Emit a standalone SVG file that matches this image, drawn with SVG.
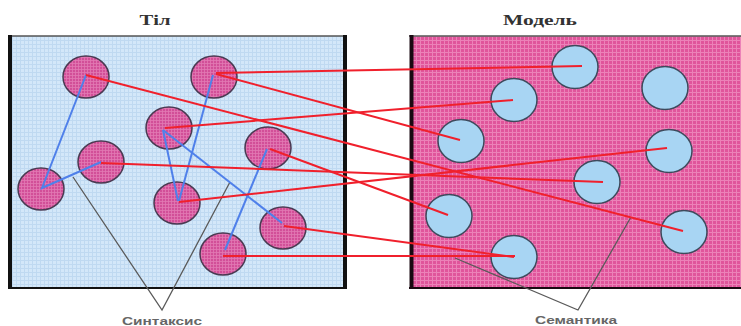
<svg xmlns="http://www.w3.org/2000/svg" width="741" height="326" viewBox="0 0 741 326">
<defs>
<pattern id="gridBlue" width="4" height="4" patternUnits="userSpaceOnUse">
<rect width="4" height="4" fill="#d3e7f9"/>
<path d="M0 0.5H4M0.5 0V4" stroke="#bfd9f1" stroke-width="1"/>
</pattern>
<pattern id="gridPink" width="4" height="4" patternUnits="userSpaceOnUse">
<rect width="4" height="4" fill="#e0559b"/>
<path d="M0 0.5H4M0.5 0V4" stroke="#ec82b8" stroke-width="1"/>
</pattern>
<pattern id="gridMag" width="3" height="3" patternUnits="userSpaceOnUse">
<rect width="3" height="3" fill="#d24f98"/>
<path d="M0 0.5H3M0.5 0V3" stroke="#e27ab4" stroke-width="0.8"/>
</pattern>
</defs>
<style>
.title{font-family:"Liberation Serif",serif;font-weight:bold;font-size:14px;fill:#333;text-anchor:middle}
.lbl{font-family:"Liberation Sans",sans-serif;font-weight:bold;font-size:10px;fill:#666;text-anchor:middle}
.ln{fill:url(#gridMag);stroke:#4a3a52;stroke-width:1.5}
.mn{fill:#a8d5f3;stroke:#3e4a5c;stroke-width:1.5}
.blue{stroke:#4f80ea;stroke-width:2;fill:none}
.red{stroke:#f0202c;stroke-width:2;fill:none}
.v{stroke:#5a5a5a;stroke-width:1.3;fill:none}
</style>
<rect width="741" height="326" fill="#ffffff"/>

<g id="box-til">
<rect x="10" y="36" width="335" height="251" fill="url(#gridBlue)"/>
<path d="M8 36H347" stroke="#555" stroke-width="1.5"/>
<path d="M10 35V289" stroke="#111" stroke-width="4"/>
<path d="M345 35V289" stroke="#111" stroke-width="4"/>
<path d="M8 288H347" stroke="#111" stroke-width="2"/>
<text class="title" x="155" y="25" textLength="31" lengthAdjust="spacingAndGlyphs">Тіл</text>
</g>

<g id="box-model">
<rect x="411" y="36" width="332" height="251" fill="url(#gridPink)"/>
<path d="M409 36H741" stroke="#555" stroke-width="1.5"/>
<path d="M411.5 35V289" stroke="#1a0a12" stroke-width="4"/>
<path d="M409 288H741" stroke="#1a0a12" stroke-width="2"/>
<text class="title" x="540" y="25" textLength="74" lengthAdjust="spacingAndGlyphs">Модель</text>
</g>

<g id="connectors-syntax-semantics">
<path class="v" d="M73 177L162 310L230 182"/>
<path class="v" d="M455 258L578 310L631 217"/>
</g>

<g id="til-nodes">
<g id="t1"><ellipse class="ln" cx="86" cy="77" rx="23" ry="21"/></g>
<g id="t2"><ellipse class="ln" cx="214" cy="77" rx="23" ry="21"/></g>
<g id="t3"><ellipse class="ln" cx="169" cy="128" rx="23" ry="21"/></g>
<g id="t4"><ellipse class="ln" cx="268" cy="148" rx="23" ry="21"/></g>
<g id="t5"><ellipse class="ln" cx="101" cy="162" rx="23" ry="21"/></g>
<g id="t6"><ellipse class="ln" cx="41" cy="189" rx="23" ry="21"/></g>
<g id="t7"><ellipse class="ln" cx="177" cy="203" rx="23" ry="21"/></g>
<g id="t8"><ellipse class="ln" cx="283" cy="228" rx="23" ry="21"/></g>
<g id="t9"><ellipse class="ln" cx="223" cy="254" rx="23" ry="21"/></g>
</g>

<g id="model-nodes">
<g id="m1"><ellipse class="mn" cx="575" cy="67" rx="23" ry="21.5"/></g>
<g id="m2"><ellipse class="mn" cx="665" cy="88" rx="23" ry="21.5"/></g>
<g id="m3"><ellipse class="mn" cx="514" cy="100" rx="23" ry="21.5"/></g>
<g id="m4"><ellipse class="mn" cx="461" cy="141" rx="23" ry="21.5"/></g>
<g id="m5"><ellipse class="mn" cx="669" cy="151" rx="23" ry="21.5"/></g>
<g id="m6"><ellipse class="mn" cx="597" cy="182" rx="23" ry="21.5"/></g>
<g id="m7"><ellipse class="mn" cx="449" cy="216" rx="23" ry="21.5"/></g>
<g id="m8"><ellipse class="mn" cx="684" cy="232" rx="23" ry="21.5"/></g>
<g id="m9"><ellipse class="mn" cx="514" cy="257" rx="23" ry="21.5"/></g>
</g>

<g id="connectors">
<g id="syntax-links">
<path class="blue" d="M86 75L42 188L101 162"/>
<path class="blue" d="M213 75L179 201"/>
<path class="blue" d="M163 130L178 201"/>
<path class="blue" d="M163 130L282 223"/>
<path class="blue" d="M267 149L225 250"/>
</g>
<g id="semantic-links">
<path class="red" d="M216 73L582 66"/>
<path class="red" d="M216 74L460 140"/>
<path class="red" d="M86 75L683 231"/>
<path class="red" d="M165 128L513 100"/>
<path class="red" d="M101 163L603 182"/>
<path class="red" d="M179 202L667 148"/>
<path class="red" d="M270 149L448 215"/>
<path class="red" d="M284 226L514 257"/>
<path class="red" d="M223 256L515 256" stroke-width="4"/>
</g>
</g>

<g id="labels">
<text class="lbl" x="162" y="325" textLength="80" lengthAdjust="spacingAndGlyphs">Синтаксис</text>
<text class="lbl" x="576" y="324" textLength="82" lengthAdjust="spacingAndGlyphs">Семантика</text>
</g>
</svg>
